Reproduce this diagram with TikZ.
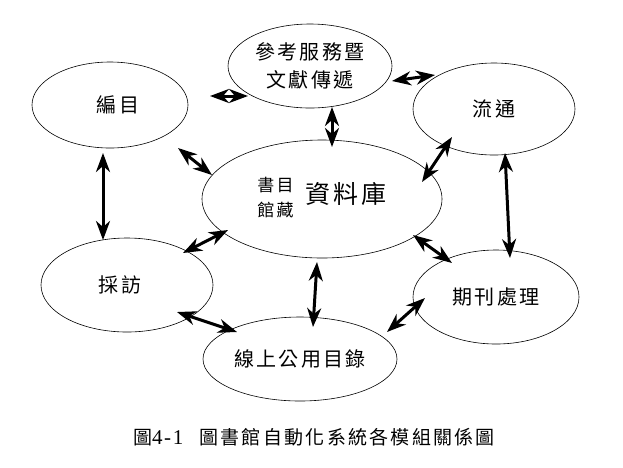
\documentclass[tikz,border=0pt]{standalone}
\usepackage{fontspec}
\setmainfont{Liberation Serif}
\newfontfamily\cjk[LetterSpace=12]{Noto Sans CJK TC}
\newfontfamily\numfont[LetterSpace=8]{Liberation Serif}
\usetikzlibrary{arrows.meta,shapes.geometric,calc}

\begin{document}
\begin{tikzpicture}[x=1pt,y=-1pt,
        mod/.style={draw,ellipse,line width=0.6pt,inner sep=0pt,align=center,
                    font=\cjk\fontsize{20}{28}\selectfont},
        link/.style={<->,>={Stealth[length=19pt,width=14pt,inset=6pt]},line width=3pt}]
        \useasboundingbox (0,0) rectangle (623,467);
        % modules
        \node[mod,minimum width=164pt,minimum height=84pt] (cankao) at (310,66) {參考服務暨\\文獻傳遞};
        \node[mod,minimum width=156pt,minimum height=86pt] (bianmu) at (110,105) {\hspace*{16pt}編目};
        \node[mod,minimum width=162pt,minimum height=92pt] (liutong) at (494,109) {流通};
        \node[mod,minimum width=240pt,minimum height=118pt] (ziliao) at (322,199)
            {{\fontsize{17}{25}\selectfont\begin{tabular}{@{}c@{}}書目\\館藏\end{tabular}}\hspace{12pt}{\fontsize{25}{28}\selectfont 資料庫}};
        \node[mod,minimum width=172pt,minimum height=94pt] (caifang) at (127,285) {採訪\hspace*{14pt}};
        \node[mod,minimum width=166pt,minimum height=94pt] (qikan) at (496,297) {期刊處理};
        \node[mod,minimum width=194pt,minimum height=84pt] (xianshang) at (300,359) {線上公用目錄};
        \node[font=\fontsize{19}{20}\selectfont] (caption) at (314,437)
            {{\cjk 圖}{\numfont\fontsize{21}{22}\selectfont 4-1}\hspace{16pt}{\cjk 圖書館自動化系統各模組關係圖}};
        % links
        \draw[link] ($(bianmu)+(100,-9)$) -- ($(cankao)+(-62,30)$);
        \draw[link] ($(cankao)+(82,15)$) -- ($(liutong)+(-59,-34)$);
        \draw[link] ($(cankao)+(22,41)$) -- ($(ziliao)+(10,-52)$);
        \draw[link] ($(bianmu)+(68,43)$) -- ($(ziliao)+(-110,-24)$);
        \draw[link] ($(liutong)+(-42,28)$) -- ($(ziliao)+(100,-17)$);
        \draw[link] ($(liutong)+(11,44)$) -- ($(qikan)+(14,-39)$);
        \draw[link] ($(ziliao)+(91,36)$) -- ($(qikan)+(-44,-34)$);
        \draw[link] ($(bianmu)+(-7,48)$) -- ($(caifang)+(-24,-45)$);
        \draw[link] ($(ziliao)+(-94,31)$) -- ($(caifang)+(56,-32)$);
        \draw[link] ($(ziliao)+(-5,63)$) -- ($(xianshang)+(13,-32)$);
        \draw[link] ($(caifang)+(50,27)$) -- ($(xianshang)+(-63,-27)$);
        \draw[link] ($(qikan)+(-71,1)$) -- ($(xianshang)+(87,-27)$);
\end{tikzpicture}
\end{document}
